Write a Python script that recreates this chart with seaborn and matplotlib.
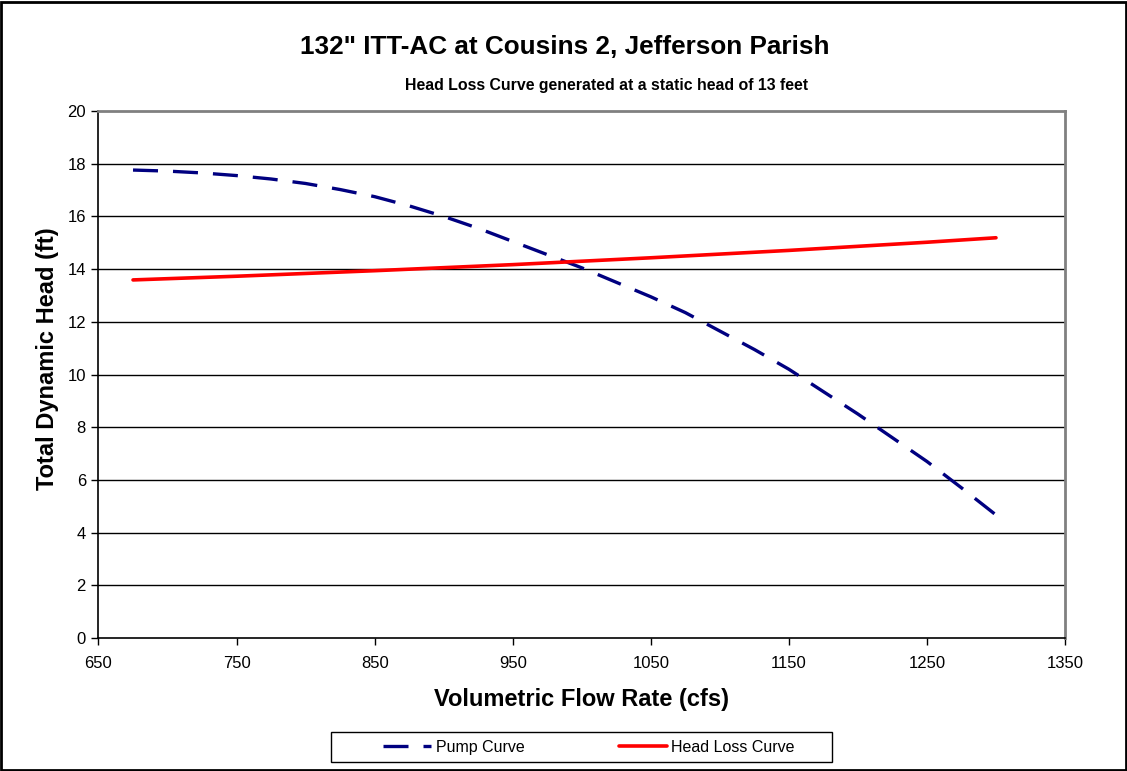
import matplotlib
matplotlib.use("Agg")
import matplotlib.pyplot as plt
import seaborn as sns
import pandas as pd
from matplotlib.patches import Rectangle

# values
flow_pump = [675, 700, 725, 750, 775, 800, 825, 850, 875, 900, 925, 950, 975,
             1000, 1025, 1050, 1075, 1100, 1125, 1150, 1175, 1200, 1225, 1250,
             1275, 1300]
pump_head = [17.76, 17.72, 17.65, 17.55, 17.42, 17.25, 17.02, 16.75, 16.40,
             16.00, 15.55, 15.05, 14.55, 14.05, 13.50, 12.95, 12.35, 11.65,
             10.95, 10.20, 9.35, 8.50, 7.60, 6.70, 5.70, 4.67]

flow_loss = [675, 750, 850, 950, 1050, 1150, 1250, 1300]
loss_head = [13.59, 13.73, 13.94, 14.17, 14.43, 14.71, 15.02, 15.19]

x_ticks = [650, 750, 850, 950, 1050, 1150, 1250, 1350]
y_ticks = [0, 2, 4, 6, 8, 10, 12, 14, 16, 18, 20]

title = "132\" ITT-AC at Cousins 2, Jefferson Parish"
subtitle = "Head Loss Curve generated at a static head of 13 feet"

sns.set_style("white", {"xtick.bottom": True, "ytick.left": True})
plt.rcParams["font.family"] = ["Liberation Sans", "DejaVu Sans"]
plt.rcParams.update({"text.color": "black", "axes.labelcolor": "black",
                     "xtick.color": "black", "ytick.color": "black"})

pump_df = pd.DataFrame({"flow": flow_pump, "head": pump_head})
loss_df = pd.DataFrame({"flow": flow_loss, "head": loss_head})

fig = plt.figure(figsize=(11.27, 7.71), dpi=100)
ax = fig.add_axes([0.0874, 0.1725, 0.8576, 0.6835])

sns.lineplot(data=pump_df, x="flow", y="head", ax=ax, color="#000080",
             linewidth=2.4, linestyle=(0, (7.5, 4.5)), label="Pump Curve")
sns.lineplot(data=loss_df, x="flow", y="head", ax=ax, color="#FF0000",
             linewidth=2.6, label="Head Loss Curve")

ax.set_xlim(650, 1350)
ax.set_ylim(0, 20)
ax.set_xticks(x_ticks)
ax.set_yticks(y_ticks)
ax.tick_params(axis="both", direction="out", length=5, width=1, color="black",
               labelsize=12, pad=4)
ax.tick_params(axis="x", pad=8)

for y in y_ticks[1:-1]:
    ax.axhline(y, color="black", linewidth=1, zorder=0)

for side in ["left", "bottom"]:
    ax.spines[side].set_color("black")
    ax.spines[side].set_linewidth(1.2)
for side in ["top", "right"]:
    ax.spines[side].set_visible(True)
    ax.spines[side].set_color("#808080")
    ax.spines[side].set_linewidth(2)

ax.set_xlabel("Volumetric Flow Rate (cfs)", fontsize=17, fontweight="bold",
              labelpad=12)
ax.set_ylabel("Total Dynamic Head (ft)", fontsize=17, fontweight="bold")
ax.yaxis.set_label_coords(-0.041, 0.53)

fig.text(0.501, 0.939, title, ha="center", va="center", fontsize=18.8,
         fontweight="bold")
fig.text(0.538, 0.889, subtitle, ha="center", va="center", fontsize=11.4,
         fontweight="bold")

ax.get_legend().remove()
handles, labels = ax.get_legend_handles_labels()
leg = fig.legend(handles, labels, loc="center", ncol=2,
                 bbox_to_anchor=(0.5226, 0.0311), frameon=False,
                 fontsize=11.5, handlelength=3.0, columnspacing=5.9,
                 handletextpad=0.3)

# legend box and outer chart border
fig.patches.append(Rectangle((0.2937, 0.0117), 0.4445, 0.0389,
                             transform=fig.transFigure, fill=False,
                             edgecolor="black", linewidth=1))
fig.patches.append(Rectangle((0.001, 0.001), 0.998, 0.997,
                             transform=fig.transFigure, fill=False,
                             edgecolor="black", linewidth=2))

fig.savefig("out.png", dpi=100)
